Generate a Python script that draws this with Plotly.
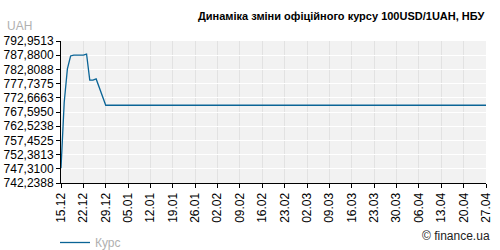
import plotly.graph_objects as go

# ---- data ----
dates = ["2008-12-15", "2008-12-16", "2008-12-17", "2008-12-18", "2008-12-19",
         "2008-12-22", "2008-12-23", "2008-12-24", "2008-12-25", "2008-12-26",
         "2008-12-29", "2008-12-30", "2008-12-31", "2009-04-27"]
rate = [747.5, 771.0, 783.0, 787.6, 787.9,
        787.9, 788.3, 779.0, 779.0, 779.4,
        770.0, 770.0, 770.0, 770.0]

x_tick_dates = ["2008-12-15", "2008-12-22", "2008-12-29", "2009-01-05", "2009-01-12",
                "2009-01-19", "2009-01-26", "2009-02-02", "2009-02-09", "2009-02-16",
                "2009-02-23", "2009-03-02", "2009-03-09", "2009-03-16", "2009-03-23",
                "2009-03-30", "2009-04-06", "2009-04-13", "2009-04-20", "2009-04-27"]
x_tick_labels = ["15.12", "22.12", "29.12", "05.01", "12.01", "19.01", "26.01",
                 "02.02", "09.02", "16.02", "23.02", "02.03", "09.03", "16.03",
                 "23.03", "30.03", "06.04", "13.04", "20.04", "27.04"]
y_tick_values = [742.2388, 747.3100, 752.3813, 757.4525, 762.5238, 767.5950,
                 772.6663, 777.7375, 782.8088, 787.8800, 792.9513]
y_tick_labels = ["742,2388", "747,3100", "752,3813", "757,4525", "762,5238",
                 "767,5950", "772,6663", "777,7375", "782,8088", "787,8800",
                 "792,9513"]

title_text = "Динаміка зміни офіційного курсу 100USD/1UAH, НБУ"
series_name = "Курс"
unit_text = "UAH"
credit_text = "© finance.ua"

FONT = "Liberation Sans, Arial, sans-serif"
LINE_COLOR = "#0a6496"

# plot area in pixels (for placing annotations in paper coords)
L, R, T, B = 61, 486, 41, 183
W, H = R - L, B - T


def px(xp):
    return (xp - L) / W


def py(yp):
    return (B - yp) / H


fig = go.Figure()
fig.add_trace(go.Scatter(
    x=dates, y=rate, mode="lines", name=series_name,
    line=dict(color=LINE_COLOR, width=1.3),
    hoverinfo="skip",
))

fig.update_layout(
    width=500, height=250,
    margin=dict(l=L, r=500 - R, t=T, b=250 - B, autoexpand=False),
    paper_bgcolor="white",
    plot_bgcolor="#f2f2f2",
    font=dict(family=FONT, size=12, color="#000000"),
    showlegend=True,
    legend=dict(
        x=px(55), y=py(228), xanchor="left", yanchor="top",
        font=dict(family=FONT, size=12, color="#b0b0b0"),
        bgcolor="rgba(0,0,0,0)", borderwidth=0,
        itemwidth=30, tracegroupgap=0,
    ),
    xaxis=dict(
        type="date",
        range=[x_tick_dates[0], x_tick_dates[-1]],
        tickmode="array", tickvals=x_tick_dates, ticktext=x_tick_labels,
        tickangle=-90,
        ticks="outside", ticklen=4, tickcolor="#000000", tickwidth=1,
        showline=True, linecolor="#000000", linewidth=1,
        showgrid=True, gridcolor="#e2e2e2", gridwidth=1,
        zeroline=False, automargin=False,
        tickfont=dict(family=FONT, size=12, color="#000000"),
    ),
    yaxis=dict(
        range=[y_tick_values[0], y_tick_values[-1]],
        tickmode="array", tickvals=y_tick_values, ticktext=y_tick_labels,
        ticks="outside", ticklen=4, tickcolor="#000000", tickwidth=1,
        showline=True, linecolor="#000000", linewidth=1,
        showgrid=True, gridcolor="#ffffff", gridwidth=1,
        zeroline=False, automargin=False,
        tickfont=dict(family=FONT, size=12, color="#000000"),
    ),
    annotations=[
        dict(text="<b>" + title_text + "</b>", xref="paper", yref="paper",
             x=1.0, y=py(16), xanchor="right", yanchor="middle",
             showarrow=False, font=dict(family=FONT, size=11, color="#000000")),
        dict(text=unit_text, xref="paper", yref="paper",
             x=px(5), y=py(26), xanchor="left", yanchor="middle",
             showarrow=False, font=dict(family=FONT, size=12, color="#b0b0b0")),
        dict(text=credit_text, xref="paper", yref="paper",
             x=px(492), y=py(236), xanchor="right", yanchor="middle",
             showarrow=False, font=dict(family=FONT, size=12, color="#222222")),
    ],
)

fig.write_html("out.html")
